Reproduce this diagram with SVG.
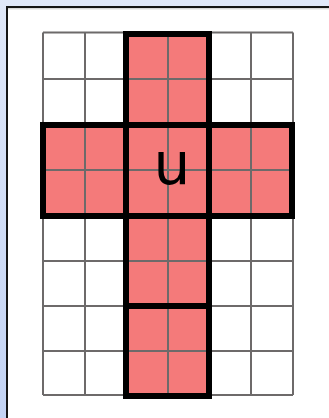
<svg xmlns="http://www.w3.org/2000/svg" width="329" height="418" viewBox="0 0 329 418">
  <defs>
    <linearGradient id="bg" x1="0" y1="0" x2="0" y2="1">
      <stop offset="0" stop-color="#e0e8f9"/>
      <stop offset="1" stop-color="#c3d3f4"/>
    </linearGradient>
  </defs>
  <style>
    .fill { fill: #f47a7a; stroke: none; }
    .grid { stroke: #6d6a6a; stroke-width: 2; fill: none; }
    .block { fill: none; stroke: #000; stroke-width: 6; }
    .label { font-family: "DejaVu Sans", "Noto Sans", sans-serif; font-size: 58px; fill: #000; text-anchor: middle; }
  </style>
  <rect x="0" y="0" width="329" height="418" fill="url(#bg)"/>
  <rect x="7" y="7" width="340" height="430" fill="#fff" stroke="#151515" stroke-width="2"/>
  <line x1="8" y1="8.8" x2="329" y2="8.8" stroke="#c8c8c8" stroke-width="1"/>

  <g id="fills">
    <rect class="fill" x="126" y="32.5" width="83" height="363"/>
    <rect class="fill" x="43" y="125" width="250" height="91"/>
  </g>

  <g id="grid" class="grid">
    <line x1="43" y1="32.5" x2="43" y2="395"/>
    <line x1="85" y1="32.5" x2="85" y2="395"/>
    <line x1="126" y1="32.5" x2="126" y2="395"/>
    <line x1="168" y1="32.5" x2="168" y2="395"/>
    <line x1="209" y1="32.5" x2="209" y2="395"/>
    <line x1="251" y1="32.5" x2="251" y2="395"/>
    <line x1="293" y1="32.5" x2="293" y2="395"/>
    <line x1="43" y1="32.5" x2="293" y2="32.5"/>
    <line x1="43" y1="79" x2="293" y2="79"/>
    <line x1="43" y1="125" x2="293" y2="125"/>
    <line x1="43" y1="170" x2="293" y2="170"/>
    <line x1="43" y1="216" x2="293" y2="216"/>
    <line x1="43" y1="261" x2="293" y2="261"/>
    <line x1="43" y1="306" x2="293" y2="306"/>
    <line x1="43" y1="351" x2="293" y2="351"/>
    <line x1="43" y1="395" x2="293" y2="395"/>
  </g>

  <g id="top"><rect class="block" x="126" y="34" width="83" height="91"/></g>
  <g id="left"><rect class="block" x="43" y="125" width="83" height="91"/></g>
  <g id="right"><rect class="block" x="209" y="125" width="83" height="91"/></g>
  <g id="bottom1"><rect class="block" x="126" y="216" width="83" height="90"/></g>
  <g id="bottom2"><rect class="block" x="126" y="306" width="83" height="90"/></g>
  <g id="center">
    <rect class="block" x="126" y="125" width="83" height="91"/>
    <text class="label" x="172" y="184">u</text>
  </g>
</svg>
